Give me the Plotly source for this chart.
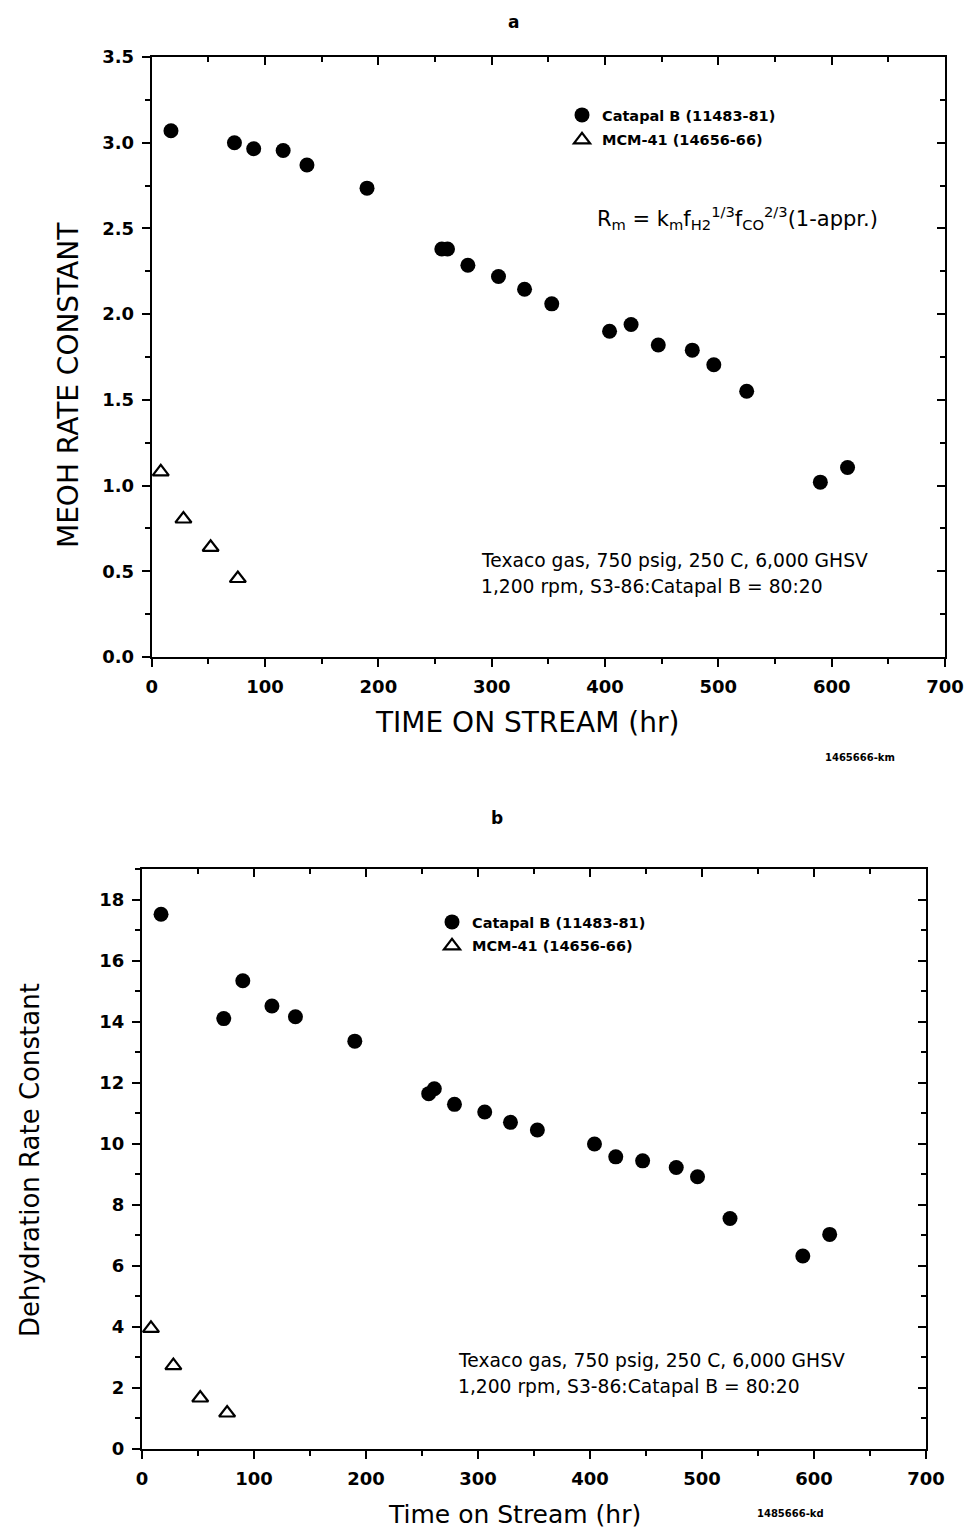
import plotly.graph_objects as go

# ---------------- data ----------------
time_catapal = [17, 73, 90, 116, 137, 190, 256, 261, 279, 306, 329, 353,
                404, 423, 447, 477, 496, 525, 590, 614]
meoh_catapal = [3.07, 3.00, 2.965, 2.955, 2.87, 2.735, 2.38, 2.38, 2.285, 2.22,
                2.145, 2.06, 1.90, 1.94, 1.82, 1.79, 1.705, 1.55, 1.02, 1.105]
dehyd_catapal = [17.52, 14.10, 15.34, 14.51, 14.16, 13.36, 11.64, 11.80, 11.29,
                 11.04, 10.70, 10.45, 9.99, 9.57, 9.44, 9.22, 8.92, 7.55, 6.32, 7.03]

time_mcm = [8, 28, 52, 76]
meoh_mcm = [1.08, 0.805, 0.64, 0.458]
dehyd_mcm = [3.95, 2.73, 1.67, 1.18]

name_catapal = "Catapal B (11483-81)"
name_mcm = "MCM-41 (14656-66)"

x_ticks = [0, 100, 200, 300, 400, 500, 600, 700]
y1_ticks = [0.0, 0.5, 1.0, 1.5, 2.0, 2.5, 3.0, 3.5]
y1_labels = ["0.0", "0.5", "1.0", "1.5", "2.0", "2.5", "3.0", "3.5"]
y2_ticks = [0, 2, 4, 6, 8, 10, 12, 14, 16, 18]

W, H = 964, 1533
FONT = "DejaVu Sans, Verdana, sans-serif"

fig = go.Figure()

circ = dict(symbol="circle", size=15, color="black", line=dict(width=0))
tri = dict(symbol="triangle-up-open", size=14, color="black", line=dict(width=2.2))

fig.add_trace(go.Scatter(x=time_catapal, y=meoh_catapal, mode="markers", marker=circ,
                         name=name_catapal, xaxis="x", yaxis="y", legend="legend",
                         legendgroup="a1"))
fig.add_trace(go.Scatter(x=time_mcm, y=meoh_mcm, mode="markers", marker=tri,
                         name=name_mcm, xaxis="x", yaxis="y", legend="legend",
                         legendgroup="a2"))
fig.add_trace(go.Scatter(x=time_catapal, y=dehyd_catapal, mode="markers", marker=circ,
                         name=name_catapal, xaxis="x2", yaxis="y2", legend="legend2",
                         legendgroup="b1"))
fig.add_trace(go.Scatter(x=time_mcm, y=dehyd_mcm, mode="markers", marker=tri,
                         name=name_mcm, xaxis="x2", yaxis="y2", legend="legend2",
                         legendgroup="b2"))
# empty traces so the mirrored (top/right) frame axes get drawn
fig.add_trace(go.Scatter(x=[], y=[], xaxis="x3", yaxis="y3", showlegend=False, hoverinfo="skip"))
fig.add_trace(go.Scatter(x=[], y=[], xaxis="x4", yaxis="y4", showlegend=False, hoverinfo="skip"))

tickfont = dict(family=FONT, size=18, color="black", weight="bold")
common = dict(showgrid=False, zeroline=False, showline=True, linecolor="black",
              linewidth=2, ticks="outside", ticklen=8, tickwidth=2, tickcolor="black",
              tickfont=tickfont, ticklabelstandoff=4, automargin=False,
              ticklabeloverflow="allow")

# panel domains (paper fractions)
xd1 = [151.7 / W, 945 / W]
yd1 = [1 - 657 / H, 1 - 57 / H]
xd2 = [142 / W, 926 / W]
yd2 = [1 - 1449 / H, 1 - 869 / H]

def mnr(d, kind="outside"):
    return dict(dtick=d, ticks=kind, ticklen=5, tickwidth=2, tickcolor="black")

layout_axes = dict(
    xaxis=dict(domain=xd1, anchor="y", range=[0, 700], tickvals=x_ticks, minor=mnr(50), **common),
    yaxis=dict(domain=yd1, anchor="x", range=[0, 3.5], tickvals=y1_ticks, ticktext=y1_labels,
               minor=mnr(0.25), **common),
    xaxis2=dict(domain=xd2, anchor="y2", range=[0, 700], tickvals=x_ticks, minor=mnr(50), **common),
    yaxis2=dict(domain=yd2, anchor="x2", range=[0, 19], tickvals=y2_ticks, minor=mnr(1), **common),
)

inner = dict(showgrid=False, zeroline=False, showline=True, linecolor="black", linewidth=2,
             ticks="inside", ticklen=8, tickwidth=2, tickcolor="black", showticklabels=False,
             automargin=False)
layout_axes.update(
    xaxis3=dict(overlaying="x", anchor="y3", side="top", range=[0, 700], tickvals=x_ticks,
                minor=mnr(50, "inside"), **inner),
    yaxis3=dict(overlaying="y", anchor="x3", side="right", range=[0, 3.5], tickvals=y1_ticks,
                minor=mnr(0.25, "inside"), **inner),
    xaxis4=dict(overlaying="x2", anchor="y4", side="top", range=[0, 700], tickvals=x_ticks,
                minor=mnr(50, "inside"), **inner),
    yaxis4=dict(overlaying="y2", anchor="x4", side="right", range=[0, 19], tickvals=y2_ticks,
                minor=mnr(1, "inside"), **inner),
)

legfont = dict(family=FONT, size=14.5, color="black", weight="bold")
fig.update_layout(
    width=W, height=H, margin=dict(l=0, r=0, t=0, b=0, autoexpand=False),
    paper_bgcolor="white", plot_bgcolor="white",
    font=dict(family=FONT, color="black"),
    showlegend=True,
    legend=dict(x=562 / W, y=1 - 99 / H, xanchor="left", yanchor="top",
                font=legfont, bgcolor="rgba(0,0,0,0)", itemwidth=30, tracegroupgap=3),
    legend2=dict(x=432 / W, y=1 - 906 / H, xanchor="left", yanchor="top",
                 font=legfont, bgcolor="rgba(0,0,0,0)", itemwidth=30, tracegroupgap=2),
    **layout_axes,
)

def ann(text, x, y, size, xanchor="center", yanchor="middle", angle=0, weight="normal"):
    fig.add_annotation(text=text, x=x / W, y=1 - y / H, xref="paper", yref="paper",
                       showarrow=False, xanchor=xanchor, yanchor=yanchor, textangle=angle,
                       font=dict(family=FONT, size=size, color="black", weight=weight))

# titles
ann("a", 513, 22, 17, weight="bold")
ann("b", 497, 818, 17, weight="bold")
ann("MEOH RATE CONSTANT", 68, 385, 28, angle=-90)
ann("TIME ON STREAM (hr)", 527, 723, 28)
ann("Dehydration Rate Constant", 30, 1160, 26, angle=-90)
ann("Time on Stream (hr)", 514, 1514, 25)
ann("1465666-km", 860, 757, 10, weight="bold")
ann("1485666-kd", 790, 1513, 10, weight="bold")

# conditions text
ann("Texaco gas, 750 psig, 250 C, 6,000 GHSV", 479, 560, 18.7, xanchor="left")
ann("1,200 rpm, S3-86:Catapal B = 80:20", 479, 586, 18.7, xanchor="left")
ann("Texaco gas, 750 psig, 250 C, 6,000 GHSV", 456, 1360, 18.7, xanchor="left")
ann("1,200 rpm, S3-86:Catapal B = 80:20", 456, 1386, 18.7, xanchor="left")

# rate expression
ann("R<sub>m</sub> = k<sub>m</sub>f<sub>H2</sub><sup>1/3</sup>f<sub>CO</sub><sup>2/3</sup>(1-appr.)",
    595, 218, 21, xanchor="left")

fig.write_html("out.html")
